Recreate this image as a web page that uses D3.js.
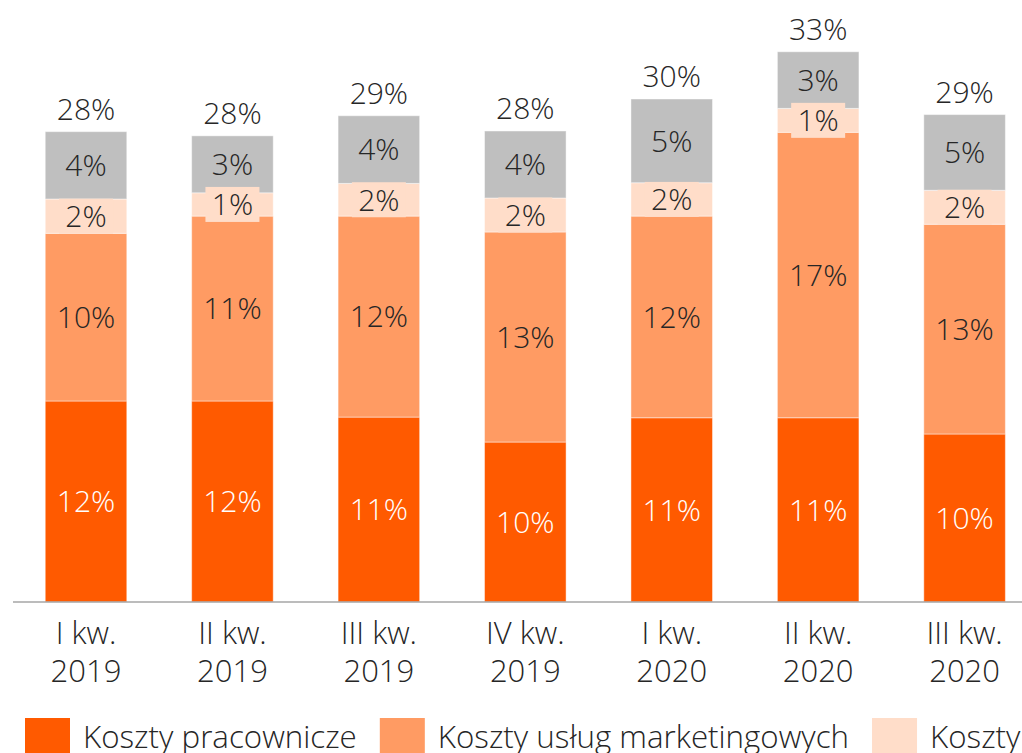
<!DOCTYPE html>
<html lang="pl">
<head>
  <meta charset="UTF-8">
  <title>Koszty</title>
  <script src="https://d3js.org/d3.v7.min.js"></script>
  <style>
    body {
      margin: 0;
      padding: 0;
      background: #fff;
      overflow: hidden;
    }
    svg {
      display: block;
      font-family: 'Open Sans', sans-serif;
      font-weight: 300;
    }
  </style>
</head>
<body>
  <svg id="chart" width="1022" height="753"></svg>

  <script>
    var quarters = ['I kw. 2019', 'II kw. 2019', 'III kw. 2019', 'IV kw. 2019', 'I kw. 2020', 'II kw. 2020', 'III kw. 2020'];
    var tickLines = [['I kw.', '2019'], ['II kw.', '2019'], ['III kw.', '2019'], ['IV kw.', '2019'],
                     ['I kw.', '2020'], ['II kw.', '2020'], ['III kw.', '2020']];
    var seriesNames = ['Koszty pracownicze', 'Koszty usług marketingowych', 'Koszty usług IT', 'Pozostałe koszty'];
    var personnel = [12.0, 12.0, 11.04, 9.55, 11.0, 11.0, 10.03];
    var marketing = [10.01, 11.04, 12.0, 12.54, 12.04, 17.04, 12.52];
    var itCosts = [2.05, 1.39, 1.95, 2.03, 1.99, 1.43, 2.03];
    var otherCosts = [4.02, 3.4, 4.04, 4.0, 5.0, 3.38, 4.52];
    var colors = ['#ff5a00', '#ff9b63', '#ffddc9', '#bfbfbf'];

    var rows = quarters.map(function(q, i) {
      return {q: q, a: personnel[i], b: marketing[i], c: itCosts[i], d: otherCosts[i]};
    });
    var keys = ['a', 'b', 'c', 'd'];
    var stacked = d3.stack().keys(keys)(rows);

    var svg = d3.select('#chart');
    var baseY = 602;
    var labelSize = 30;

    var x = d3.scaleBand()
      .domain(quarters)
      .range([12.8, 1037.8])
      .paddingInner(0.443)
      .paddingOuter(0.2215);
    var y = d3.scaleLinear()
      .domain([0, 35])
      .range([baseY, baseY - 35 * 16.75]);

    // bars
    var layers = svg.selectAll('g.layer')
      .data(stacked).enter().append('g')
      .attr('class', 'layer')
      .attr('fill', function(d, i) { return colors[i]; });

    layers.selectAll('rect')
      .data(function(d) { return d; })
      .enter().append('rect')
      .attr('x', function(d) { return x(d.data.q); })
      .attr('width', x.bandwidth())
      .attr('y', function(d) { return y(d[1]); })
      .attr('height', function(d) { return y(d[0]) - y(d[1]); })
      .attr('stroke', '#fff')
      .attr('stroke-opacity', 0.45)
      .attr('stroke-width', 1);

    // axis line
    svg.append('line')
      .attr('x1', 13).attr('x2', 1022)
      .attr('y1', baseY).attr('y2', baseY)
      .attr('stroke', '#a6a6a6')
      .attr('stroke-width', 1.5);

    // segment labels
    stacked.forEach(function(layer, li) {
      var g = svg.append('g');
      layer.forEach(function(d) {
        var cx = x(d.data.q) + x.bandwidth() / 2;
        var cy = (y(d[0]) + y(d[1])) / 2;
        var label = Math.round(d[1] - d[0]) + '%';
        if (li === 2) {
          g.append('rect')
            .attr('x', cx - 27).attr('y', cy - 17.5)
            .attr('width', 54).attr('height', 35)
            .attr('fill', colors[2]);
        }
        g.append('text')
          .attr('x', cx).attr('y', cy)
          .attr('dy', '0.36em')
          .attr('text-anchor', 'middle')
          .attr('font-size', labelSize)
          .attr('fill', li === 0 ? '#fff' : '#262626')
          .text(label);
      });
    });

    // totals
    svg.append('g').selectAll('text')
      .data(rows).enter().append('text')
      .attr('x', function(d) { return x(d.q) + x.bandwidth() / 2; })
      .attr('y', function(d) { return y(d.a + d.b + d.c + d.d) - 12; })
      .attr('text-anchor', 'middle')
      .attr('font-size', labelSize)
      .attr('fill', '#262626')
      .text(function(d) { return Math.round(d.a + d.b + d.c + d.d) + '%'; });

    // category labels
    var ticks = svg.append('g').selectAll('text')
      .data(quarters).enter().append('text')
      .attr('x', function(d) { return x(d) + x.bandwidth() / 2; })
      .attr('y', 644)
      .attr('text-anchor', 'middle')
      .attr('font-size', 31)
      .attr('fill', '#262626');
    ticks.append('tspan')
      .attr('x', function(d) { return x(d) + x.bandwidth() / 2; })
      .text(function(d, i) { return tickLines[i][0]; });
    ticks.append('tspan')
      .attr('x', function(d) { return x(d) + x.bandwidth() / 2; })
      .attr('dy', 37.7)
      .text(function(d, i) { return tickLines[i][1]; });

    // legend
    var legend = svg.append('g');
    var lx = 25;
    seriesNames.forEach(function(name, i) {
      legend.append('rect')
        .attr('x', lx).attr('y', 718)
        .attr('width', 45).attr('height', 40)
        .attr('fill', colors[i]);
      var t = legend.append('text')
        .attr('x', lx + 58).attr('y', 748)
        .attr('font-size', 31.3)
        .attr('fill', '#262626')
        .text(name);
      lx += 58 + t.node().getComputedTextLength() + 23;
    });
  </script>
</body>
</html>
